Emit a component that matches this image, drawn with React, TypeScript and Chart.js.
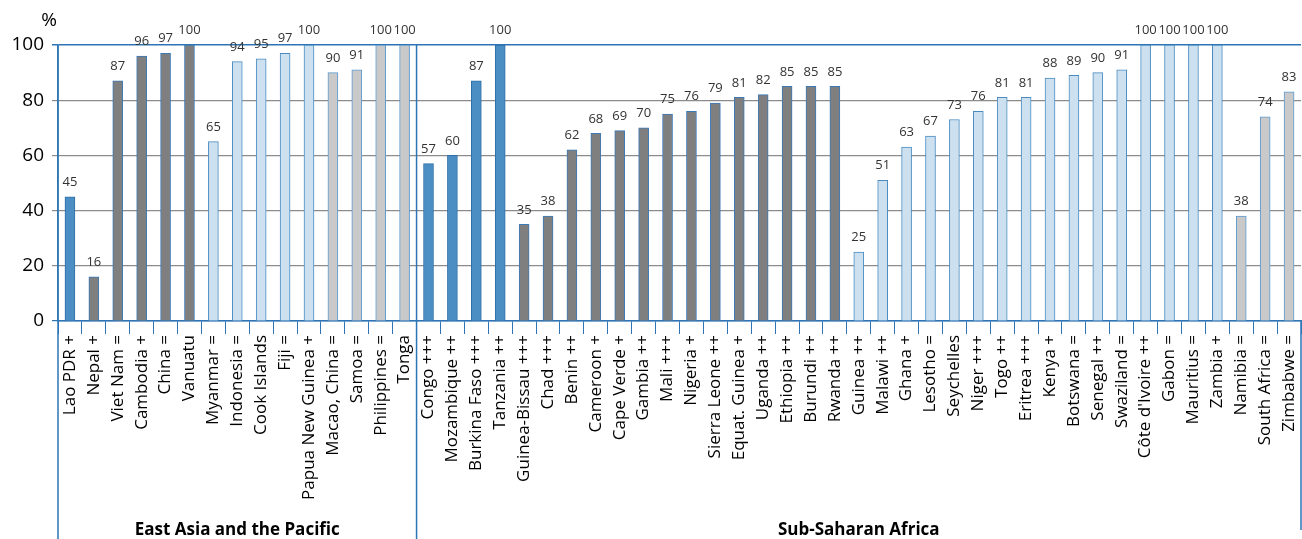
import React, { useEffect, useRef } from "react";
import { Chart, registerables } from "chart.js";

Chart.register(...registerables);

const categories = [
  "Lao PDR +", "Nepal +", "Viet Nam =", "Cambodia +", "China =", "Vanuatu",
  "Myanmar =", "Indonesia =", "Cook Islands", "Fiji =", "Papua New Guinea +",
  "Macao, China =", "Samoa =", "Philippines =", "Tonga",
  "Congo +++", "Mozambique ++", "Burkina Faso +++", "Tanzania ++",
  "Guinea-Bissau +++", "Chad +++", "Benin ++", "Cameroon +", "Cape Verde +",
  "Gambia ++", "Mali +++", "Nigeria +", "Sierra Leone ++", "Equat. Guinea +",
  "Uganda ++", "Ethiopia ++", "Burundi ++", "Rwanda ++",
  "Guinea ++", "Malawi ++", "Ghana +", "Lesotho =", "Seychelles", "Niger +++",
  "Togo ++", "Eritrea +++", "Kenya +", "Botswana =", "Senegal ++", "Swaziland =",
  "Côte d'Ivoire ++", "Gabon =", "Mauritius =", "Zambia +",
  "Namibia =", "South Africa =", "Zimbabwe =",
];

const values = [
  45, 16, 87, 96, 97, 100,
  65, 94, 95, 97, 100,
  90, 91, 100, 100,
  57, 60, 87, 100,
  35, 38, 62, 68, 69, 70, 75, 76, 79, 81, 82, 85, 85, 85,
  25, 51, 63, 67, 73, 76, 81, 81, 88, 89, 90, 91, 100, 100, 100, 100,
  38, 74, 83,
];

// bar class (0..3) as shown in the picture
const barClass = [
  0, 1, 1, 1, 1, 1,
  2, 2, 2, 2, 2,
  3, 3, 3, 3,
  0, 0, 0, 0,
  1, 1, 1, 1, 1, 1, 1, 1, 1, 1, 1, 1, 1, 1,
  2, 2, 2, 2, 2, 2, 2, 2, 2, 2, 2, 2, 2, 2, 2, 2,
  3, 3, 3,
];

const regionNames = ["East Asia and the Pacific", "Sub-Saharan Africa"];
const regionSizes = [15, 37];
const yTickValues = [0, 20, 40, 60, 80, 100];

const FILL = ["#4a8ec4", "#7f7f7f", "#cde0ef", "#c9c9c9"];
const EDGE = ["#2e6fa8", "#3b7ab8", "#4a8cc2", "#5b9bd0"];
const AXIS = "#2e75b6";
const FONT = '"Open Sans", "Noto Sans", sans-serif';

const overlay = {
  id: "overlay",
  afterDatasetsDraw(chart: any) {
    const ctx = chart.ctx;
    const { left, right, top, bottom } = chart.chartArea;
    const xs = chart.scales.x;
    const H = chart.height;
    const meta = chart.getDatasetMeta(0);
    ctx.save();
    // value labels
    ctx.font = `13px ${FONT}`;
    ctx.fillStyle = "#333333";
    ctx.textAlign = "center";
    ctx.textBaseline = "bottom";
    meta.data.forEach((bar: any, i: number) => {
      ctx.fillText(String(values[i]), bar.x, bar.y - 8);
    });
    // axis extensions and region separators
    ctx.strokeStyle = AXIS;
    ctx.lineWidth = 1.5;
    ctx.beginPath();
    ctx.moveTo(left, top);
    ctx.lineTo(left, H);
    let start = 0;
    const bounds: number[] = [left];
    regionSizes.forEach((n) => {
      const endIdx = start + n - 1;
      let bx: number;
      if (endIdx + 1 < categories.length) {
        bx = (xs.getPixelForValue(endIdx) + xs.getPixelForValue(endIdx + 1)) / 2;
        ctx.moveTo(bx, top);
        ctx.lineTo(bx, H);
      } else {
        bx = right;
        ctx.moveTo(bx, bottom);
        ctx.lineTo(bx, H - 9);
      }
      bounds.push(bx);
      start += n;
    });
    ctx.stroke();
    // region labels
    ctx.font = `bold 17px ${FONT}`;
    ctx.fillStyle = "#000000";
    ctx.textAlign = "center";
    ctx.textBaseline = "middle";
    regionNames.forEach((name, r) => {
      ctx.fillText(name, (bounds[r] + bounds[r + 1]) / 2, 530);
    });
    // unit label
    ctx.font = `19px ${FONT}`;
    ctx.fillText("%", 49, 21);
    ctx.restore();
  },
};

export default function App() {
  const ref = useRef<HTMLCanvasElement>(null);
  useEffect(() => {
    document.body.style.margin = "0";
    if (!ref.current) return;
    const chart = new Chart(ref.current, {
      type: "bar",
      data: {
        labels: categories,
        datasets: [
          {
            data: values,
            backgroundColor: barClass.map((c) => FILL[c]),
            borderColor: barClass.map((c) => EDGE[c]),
            borderWidth: 1,
            barThickness: 10,
          },
        ],
      },
      options: {
        responsive: false,
        animation: false,
        layout: { padding: { top: 45, right: 1, left: 0, bottom: 0 } },
        plugins: { legend: { display: false }, tooltip: { enabled: false } },
        scales: {
          x: {
            offset: true,
            grid: {
              offset: true,
              drawOnChartArea: false,
              color: AXIS,
              tickLength: 13,
              lineWidth: 1,
            },
            border: { color: AXIS, width: 1.5 },
            ticks: {
              autoSkip: false,
              maxRotation: 90,
              minRotation: 90,
              padding: 1,
              color: "#000000",
              font: { family: FONT, size: 17 },
            },
            afterFit(s: any) {
              s.height = 218;
              s.paddingRight = 0;
              s.paddingLeft = 0;
            },
          },
          y: {
            min: 0,
            max: 100,
            afterBuildTicks(s: any) {
              s.ticks = yTickValues.map((v) => ({ value: v }));
            },
            ticks: {
              color: "#000000",
              padding: 8,
              font: { family: FONT, size: 19 },
            },
            grid: {
              color: (c: any) => (c.tick && (c.tick.value === 100 || c.tick.value === 0) ? AXIS : "#8c8c8c"),
              lineWidth: (c: any) => (c.tick && c.tick.value === 100 ? 1.5 : 1.2),
              tickLength: 6,
            },
            border: { color: AXIS, width: 1.5 },
            afterFit(s: any) {
              s.width = 58;
              s.paddingTop = 0;
              s.paddingBottom = 0;
            },
          },
        },
      },
      plugins: [overlay],
    });
    return () => chart.destroy();
  }, []);
  return (
    <div style={{ position: "absolute", left: 0, top: 0, width: 1302, height: 539 }}>
      <canvas ref={ref} width={1302} height={539} />
    </div>
  );
}
